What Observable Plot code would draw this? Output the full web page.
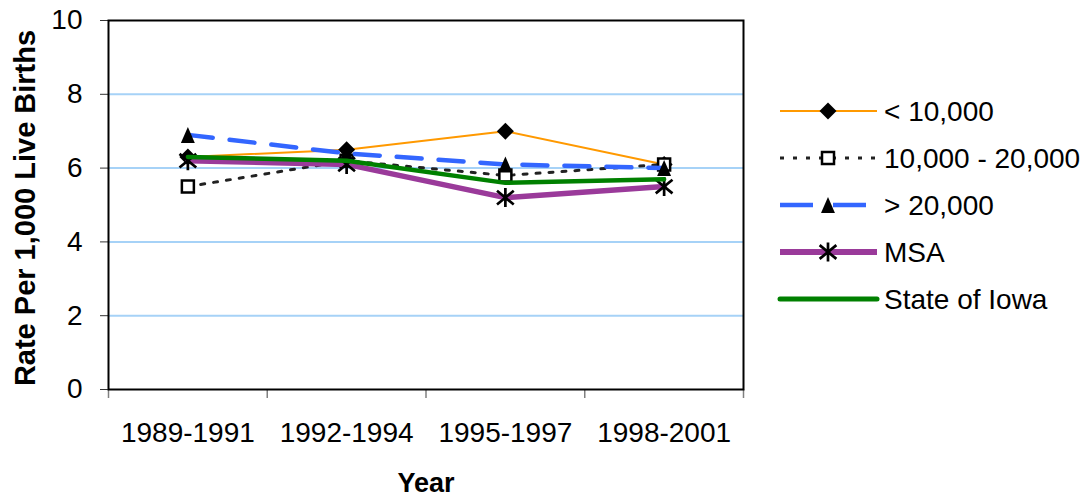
<!DOCTYPE html>
<html>
<head>
<meta charset="utf-8">
<script src="https://cdn.jsdelivr.net/npm/d3@7"></script>
<script src="https://cdn.jsdelivr.net/npm/@observablehq/plot@0.6"></script>
<style>
  html, body { margin: 0; padding: 0; background: #fff; }
  #wrap { position: relative; width: 1091px; height: 501px; font-family: "Liberation Sans", Arial, sans-serif; }
  #legend { position: absolute; left: 0; top: 0; }
</style>
</head>
<body>
<div id="wrap"></div>
<script>
// ---- Data ----
const periods = ["1989-1991", "1992-1994", "1995-1997", "1998-2001"];
const seriesNames = ["< 10,000", "10,000 - 20,000", "> 20,000", "MSA", "State of Iowa"];
const lt10k   = [6.3, 6.5, 7.0, 6.1];
const k10to20 = [5.5, 6.2, 5.8, 6.1];
const gt20k   = [6.9, 6.4, 6.1, 6.0];
const msa     = [6.2, 6.1, 5.2, 5.5];
const iowa    = [6.3, 6.2, 5.6, 5.7];
const yTicks = [0, 2, 4, 6, 8, 10];
const yGrid = [2, 4, 6, 8];
const yTitle = "Rate Per 1,000 Live Births";
const xTitle = "Year";

// ---- Custom marker symbols ----
const rOf = size => Math.sqrt(size / Math.PI);
const diamondSym = { draw(c, size) { const r = rOf(size); c.moveTo(0, -r); c.lineTo(r, 0); c.lineTo(0, r); c.lineTo(-r, 0); c.closePath(); } };
const squareSym = { draw(c, size) { const r = rOf(size); c.moveTo(-r, -r); c.lineTo(r, -r); c.lineTo(r, r); c.lineTo(-r, r); c.closePath(); } };
const triangleSym = { draw(c, size) { const r = rOf(size); c.moveTo(0, -r); c.lineTo(0.87 * r, r); c.lineTo(-0.87 * r, r); c.closePath(); } };
const asteriskSym = { draw(c, size) { const r = rOf(size);
  c.moveTo(0, -r); c.lineTo(0, r);
  c.moveTo(-0.88 * r, -0.72 * r); c.lineTo(0.88 * r, 0.72 * r);
  c.moveTo(-0.88 * r, 0.72 * r); c.lineTo(0.88 * r, -0.72 * r); } };

const styles = [
  { values: lt10k,   stroke: "#FF9900", width: 2,   dash: null,    sym: diamondSym,  r: 8.5, fill: "black", mstroke: "none", msw: 0 },
  { values: k10to20, stroke: "#222222", width: 3,   dash: "4 9",   sym: squareSym,   r: 6,   fill: "white", mstroke: "black", msw: 2.5 },
  { values: gt20k,   stroke: "#3366FF", width: 4.5, dash: "25 17", sym: triangleSym, r: 8,   fill: "black", mstroke: "none", msw: 0 },
  { values: msa,     stroke: "#9A3A9A", width: 5.5, dash: null,    sym: asteriskSym, r: 9.5, fill: "none",  mstroke: "black", msw: 2.7 },
  { values: iowa,    stroke: "#008000", width: 4.5, dash: null,    sym: null,        r: 0 }
];

const rowsOf = vals => periods.map((p, i) => ({ i, period: p, value: vals[i] }));

const marks = [
  Plot.ruleY(yGrid, { stroke: "#a6d2f7", strokeWidth: 2 }),
  Plot.axisY({ ticks: yTicks, tickSize: 8, tickPadding: 18, stroke: "#333", fill: "black", label: null }),
  Plot.axisX({ ticks: [0, 1, 2, 3, 4], tickSize: 9, stroke: "#808080", strokeWidth: 1.5, tickFormat: () => "", label: null }),
  Plot.axisX({ ticks: periods.map((p, i) => i + 0.5), tickSize: 0, tickPadding: 33, fill: "black",
               tickFormat: v => periods[Math.round(v - 0.5)], label: null }),
  Plot.frame({ stroke: "black", strokeWidth: 2 })
];

styles.forEach(s => {
  const rows = rowsOf(s.values);
  marks.push(Plot.line(rows, { x: d => d.i + 0.5, y: "value", stroke: s.stroke, strokeWidth: s.width,
    strokeDasharray: s.dash ?? undefined, strokeLinejoin: "round" }));
  if (s.sym) {
    marks.push(Plot.dot(rows, { x: d => d.i + 0.5, y: "value", symbol: s.sym, r: s.r,
      fill: s.fill, stroke: s.mstroke, strokeWidth: s.msw }));
  }
});

marks.push(Plot.text([yTitle], { text: d => d, frameAnchor: "left", textAnchor: "middle", lineAnchor: "middle",
  rotate: -90, dx: -83, dy: 3, fontWeight: "bold", fontSize: 29, fill: "black" }));
marks.push(Plot.text([xTitle], { text: d => d, frameAnchor: "bottom", textAnchor: "middle", lineAnchor: "middle",
  dy: 94, fontWeight: "bold", fontSize: 27, fill: "black" }));

const chart = Plot.plot({
  width: 1091,
  height: 501,
  marginTop: 20,
  marginRight: 348,
  marginBottom: 112,
  marginLeft: 108,
  style: { fontFamily: "'Liberation Sans', Arial, sans-serif", fontSize: "28px", color: "black", background: "white" },
  x: { type: "linear", domain: [0, 4] },
  y: { domain: [0, 10] },
  marks
});
document.getElementById("wrap").appendChild(chart);

// ---- Legend (HTML overlay SVG) ----
const legend = d3.select("#wrap").append("svg").attr("id", "legend")
  .attr("width", 1091).attr("height", 501)
  .style("font-family", "'Liberation Sans', Arial, sans-serif");
const rowY0 = 111, rowStep = 47, lx1 = 780, lx2 = 877, mx = 828, tx = 884;
styles.forEach((s, k) => {
  const y = rowY0 + k * rowStep;
  const g = legend.append("g");
  g.append("line").attr("x1", lx1).attr("x2", lx2).attr("y1", y).attr("y2", y)
    .attr("stroke", s.stroke).attr("stroke-width", s.width + (k >= 3 ? 0.5 : 0))
    .attr("stroke-dasharray", s.dash === "25 17" ? "33 20" : (s.dash ?? null))
    .attr("stroke-linecap", k === 4 ? "round" : "butt");
  if (s.sym) {
    g.append("path").attr("transform", `translate(${mx},${y})`)
      .attr("d", d3.symbol(s.sym, Math.PI * s.r * s.r)())
      .attr("fill", s.fill).attr("stroke", s.mstroke).attr("stroke-width", s.msw);
  }
  g.append("text").attr("x", tx).attr("y", y + 10).attr("font-size", 28).attr("fill", "black")
    .text(seriesNames[k]);
});
</script>
</body>
</html>
